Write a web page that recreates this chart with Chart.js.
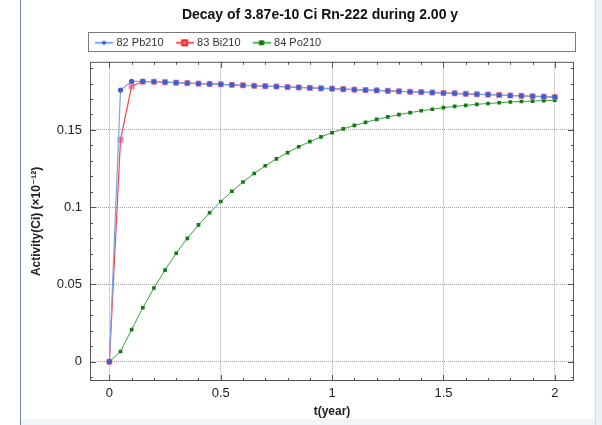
<!DOCTYPE html>
<html>
<head>
<meta charset="utf-8">
<script src="https://cdn.jsdelivr.net/npm/chart.js@4.4.1/dist/chart.umd.min.js"></script>
<style>
  body { margin: 0; width: 602px; height: 425px; overflow: hidden; position: relative; background: #fff; }
  #edgeLeft { position: absolute; left: 20px; top: 0; width: 1px; height: 425px; background: #6d88a6; }
  #edgeRight { position: absolute; left: 595px; top: 0; width: 7px; height: 425px; background: #eef1f4; border-left: 1px solid #d3dae2; }
  #edgeBottom { position: absolute; left: 21px; top: 419px; width: 574px; height: 6px; background: #f1f5f9; }
  canvas { position: absolute; left: 0; top: 0; }
</style>
</head>
<body>
<div id="edgeLeft"></div>
<div id="edgeRight"></div>
<div id="edgeBottom"></div>
<canvas id="decay" width="640" height="425"></canvas>
<script>
// time in years (step 0.05)
const years = [0, 0.05, 0.1, 0.15, 0.2, 0.25, 0.3, 0.35, 0.4, 0.45, 0.5, 0.55, 0.6, 0.65, 0.7, 0.75, 0.8, 0.85, 0.9, 0.95,
  1, 1.05, 1.1, 1.15, 1.2, 1.25, 1.3, 1.35, 1.4, 1.45, 1.5, 1.55, 1.6, 1.65, 1.7, 1.75, 1.8, 1.85, 1.9, 1.95, 2];

// activity, x10^-12 Ci
const pb210 = [0, 0.1758, 0.1815, 0.1814, 0.1812, 0.1809, 0.1806, 0.1803, 0.1800, 0.1798, 0.1795, 0.1792, 0.1789, 0.1786,
  0.1783, 0.1781, 0.1778, 0.1775, 0.1772, 0.1769, 0.1767, 0.1764, 0.1761, 0.1758, 0.1756, 0.1753, 0.1750, 0.1747,
  0.1745, 0.1742, 0.1739, 0.1737, 0.1734, 0.1731, 0.1729, 0.1726, 0.1723, 0.1721, 0.1718, 0.1715, 0.1713];
const bi210 = [0, 0.1437, 0.1784, 0.1812, 0.1812, 0.1809, 0.1806, 0.1803, 0.1800, 0.1798, 0.1795, 0.1792, 0.1789, 0.1786,
  0.1783, 0.1781, 0.1778, 0.1775, 0.1772, 0.1769, 0.1767, 0.1764, 0.1761, 0.1758, 0.1756, 0.1753, 0.1750, 0.1747,
  0.1745, 0.1742, 0.1739, 0.1737, 0.1734, 0.1731, 0.1729, 0.1726, 0.1723, 0.1721, 0.1718, 0.1715, 0.1713];
const po210 = [0, 0.0066, 0.0208, 0.0349, 0.0477, 0.0593, 0.0702, 0.0798, 0.0885, 0.0964, 0.1037, 0.1103, 0.1163, 0.1218,
  0.1268, 0.1313, 0.1353, 0.1391, 0.1424, 0.1455, 0.1482, 0.1507, 0.1529, 0.1549, 0.1568, 0.1584, 0.1599, 0.1612,
  0.1624, 0.1634, 0.1644, 0.1652, 0.1659, 0.1666, 0.1671, 0.1676, 0.1681, 0.1684, 0.1687, 0.1690, 0.1692];

const seriesNames = ['82 Pb210', '83 Bi210', '84 Po210'];
const xTicks = [0, 0.5, 1, 1.5, 2];
const xTickLabels = ['0', '0.5', '1', '1.5', '2'];
const yTicks = [0, 0.05, 0.1, 0.15];
const yTickLabels = ['0', '0.05', '0.1', '0.15'];

Chart.defaults.font.family = 'Arial, "Liberation Sans", "DejaVu Sans", sans-serif';

const toPoints = (vals) => vals.map((v, i) => ({ x: years[i], y: v }));

// little line + marker pictures for the legend
const makeIcon = (lineColor, drawMarker) => {
  const c = document.createElement('canvas');
  c.width = 18;
  c.height = 9;
  const g = c.getContext('2d');
  g.strokeStyle = lineColor;
  g.lineWidth = 1.5;
  g.beginPath();
  g.moveTo(0, 4.5);
  g.lineTo(18, 4.5);
  g.stroke();
  drawMarker(g);
  return c;
};
const legendIcons = [
  makeIcon('#5b86e6', (g) => { g.fillStyle = '#3a62d8'; g.beginPath(); g.arc(9, 4.5, 2, 0, Math.PI * 2); g.fill(); }),
  makeIcon('#f02020', (g) => { g.fillStyle = '#ff2020'; g.fillRect(5.5, 1, 7, 7); g.fillStyle = '#ff9090'; g.fillRect(7.5, 3, 3, 3); }),
  makeIcon('#1e9a1e', (g) => { g.fillStyle = '#117711'; g.fillRect(6.5, 2, 5, 5); }),
];

const frame = {
  id: 'frame',
  afterLayout(chart) {
    // title sits a little right of the canvas middle, legend starts close to the frame
    chart.titleBlock.left = 66;
    chart.legend.left -= 7;
  },
  afterDraw(chart) {
    const { ctx, chartArea: a, scales: { x, y } } = chart;
    ctx.save();
    ctx.strokeStyle = '#555';
    ctx.lineWidth = 1;
    ctx.strokeRect(a.left + 0.5, a.top + 0.5, a.width - 1, a.height - 1);
    ctx.beginPath();
    for (let i = 0; i <= 20; i++) {
      const px = Math.round(x.getPixelForValue(i / 10)) + 0.5;
      const len = i % 5 === 0 ? 6 : 3;
      ctx.moveTo(px, a.bottom); ctx.lineTo(px, a.bottom - len);
      ctx.moveTo(px, a.top); ctx.lineTo(px, a.top + len);
    }
    for (let i = -1; i <= 19; i++) {
      const py = Math.round(y.getPixelForValue(i / 100)) + 0.5;
      const len = i % 5 === 0 ? 6 : 3;
      ctx.moveTo(a.left, py); ctx.lineTo(a.left + len, py);
      ctx.moveTo(a.right, py); ctx.lineTo(a.right - len, py);
    }
    ctx.stroke();
    // legend box
    ctx.strokeStyle = '#7a7a7a';
    ctx.strokeRect(a.left - 1.5, 32.5, a.width + 3, 19);
    ctx.restore();
  },
};

new Chart(document.querySelector('#decay'), {
  type: 'line',
  data: {
    datasets: [
      {
        label: seriesNames[0],
        data: toPoints(pb210),
        xAxisID: 'x',
        borderColor: '#7aa3ec',
        borderWidth: 1.2,
        pointStyle: 'circle',
        pointRadius: 2.6,
        pointBackgroundColor: '#3e5fd4',
        pointBorderColor: '#3e5fd4',
        pointBorderWidth: 0,
        tension: 0,
      },
      {
        label: seriesNames[1],
        data: toPoints(bi210),
        xAxisID: 'x',
        borderColor: '#ee4848',
        borderWidth: 1.2,
        pointStyle: 'rect',
        pointRadius: 3.6,
        pointBackgroundColor: 'rgba(200,70,130,0.55)',
        pointBorderColor: 'rgba(250,120,130,0.9)',
        pointBorderWidth: 1,
        tension: 0,
      },
      {
        label: seriesNames[2],
        data: toPoints(po210),
        xAxisID: 'x',
        borderColor: '#3aa23a',
        borderWidth: 1,
        pointStyle: 'rect',
        pointRadius: 2.6,
        pointBackgroundColor: '#167816',
        pointBorderColor: '#167816',
        pointBorderWidth: 0,
        tension: 0,
      },
    ],
  },
  options: {
    responsive: false,
    animation: false,
    devicePixelRatio: 1,
    layout: { padding: { left: 0, right: 66, top: 0, bottom: 0 } },
    plugins: {
      title: {
        display: true,
        text: 'Decay of 3.87e-10 Ci Rn-222 during 2.00 y',
        color: '#111',
        font: { size: 14, weight: 'bold' },
        padding: { top: 6.5, bottom: 0 },
      },
      legend: {
        display: true,
        position: 'top',
        align: 'start',
        fullSize: false,
        labels: {
          usePointStyle: true,
          pointStyleWidth: 14,
          padding: 14,
          color: '#333',
          font: { size: 11 },
          generateLabels: (chart) =>
            Chart.defaults.plugins.legend.labels.generateLabels(chart).map((item, i) => ({ ...item, pointStyle: legendIcons[i] })),
        },
      },
      tooltip: { enabled: false },
    },
    scales: {
      x: {
        type: 'linear',
        min: -0.087,
        max: 2.086,
        afterBuildTicks: (s) => { s.ticks = xTicks.map((v) => ({ value: v })); },
        afterFit: (s) => { s.height = 44; },
        ticks: {
          callback: (v, i) => xTickLabels[i],
          padding: 5,
          color: '#222',
          font: { size: 13 },
          maxRotation: 0,
          autoSkip: false,
        },
        grid: { color: '#a4a4a4', lineWidth: 1, drawTicks: false },
        border: { display: false, dash: [1, 1] },
        title: {
          display: true,
          text: 't(year)',
          color: '#222',
          font: { size: 12, weight: 'bold' },
          padding: { top: 0, bottom: 5.8 },
        },
      },
      // empty spacer between legend and plot
      xTop: {
        type: 'linear',
        position: 'top',
        afterFit: (s) => { s.height = 3.5; },
        ticks: { display: false },
        grid: { display: false, drawTicks: false },
        border: { display: false },
      },
      y: {
        type: 'linear',
        min: -0.0125,
        max: 0.1941,
        afterBuildTicks: (s) => { s.ticks = yTicks.map((v) => ({ value: v })); },
        afterFit: (s) => { s.width = 90; },
        ticks: {
          callback: (v, i) => yTickLabels[i],
          padding: 8,
          color: '#222',
          font: { size: 13 },
          autoSkip: false,
        },
        grid: { color: '#a4a4a4', lineWidth: 1, drawTicks: false },
        border: { display: false, dash: [1, 1] },
        title: {
          display: true,
          text: 'Activity(Ci) (×10⁻¹²)',
          color: '#222',
          font: { size: 12, weight: 'bold' },
          padding: { top: 29.8, bottom: 0 },
        },
      },
    },
  },
  plugins: [frame],
});
</script>
</body>
</html>
